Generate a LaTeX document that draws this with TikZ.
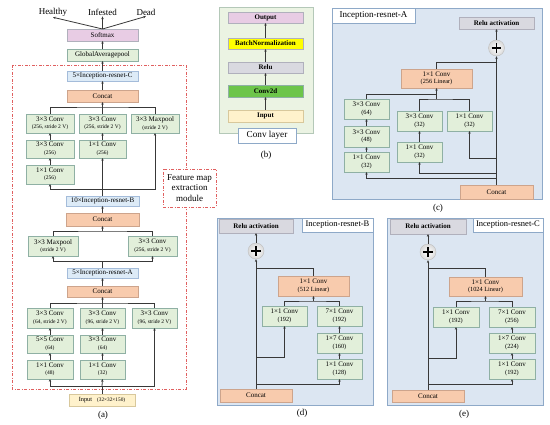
\documentclass[tikz,border=0pt]{standalone}
\usepackage{fontspec}
\setmainfont{Liberation Serif}
\usetikzlibrary{arrows.meta}
\definecolor{gfill}{HTML}{E2EFDA}
\definecolor{gdraw}{HTML}{8FB0A4}
\definecolor{bfill}{HTML}{DDEBF7}
\definecolor{bdraw}{HTML}{A4BCDA}
\definecolor{ofill}{HTML}{F8CBAD}
\definecolor{odraw}{HTML}{CDA48C}
\definecolor{pfill}{HTML}{E8CCE4}
\definecolor{yfill}{HTML}{FFF2CC}
\definecolor{ydraw}{HTML}{D8C89C}
\definecolor{rfill}{HTML}{D9D9E0}
\definecolor{rdraw}{HTML}{B0B0BC}
\definecolor{cgreen}{HTML}{6DC54A}
\definecolor{byellow}{HTML}{FFFF00}
\definecolor{panelb}{HTML}{DCE6F2}
\definecolor{paneldraw}{HTML}{8EA9C8}
\definecolor{panelg}{HTML}{EBF3E3}
\definecolor{panelgdraw}{HTML}{B4C8B8}
\definecolor{lcol}{HTML}{383838}
\definecolor{redd}{HTML}{E06060}
\newcommand{\bt}[2]{#1\\[-0.5pt]{\fontsize{5.5}{6}\selectfont #2}}
\newcommand{\ct}[2]{#1\\[-0.5pt]{\fontsize{6.3}{7}\selectfont #2}}
\newcommand{\bx}[7]{\node[#2, minimum width={(#5)-(#3)}, minimum height={(#6)-(#4)}] (#1) at ({((#3)+(#5))/2},{((#4)+(#6))/2}) {#7};}
\begin{document}
\begin{tikzpicture}[x=1pt,y=-1pt,
  base/.style={inner sep=0pt, outer sep=0pt, align=center, font=\fontsize{7}{8}\selectfont, line width=0.55pt},
  gbox/.style={base, draw=gdraw, fill=gfill},
  bbox/.style={base, draw=bdraw, fill=bfill},
  obox/.style={base, draw=odraw, fill=ofill},
  pbox/.style={base, draw=rdraw, fill=pfill},
  ibox/.style={base, draw=ydraw, fill=yfill},
  rbox/.style={base, draw=rdraw, fill=rfill, font=\fontsize{7}{8}\selectfont\bfseries},
  wlab/.style={base, draw=paneldraw, fill=white, font=\fontsize{8.5}{9}\selectfont},
  ln/.style={draw=lcol, line width=0.8pt},
  arr/.style={ln, -{Stealth[length=2.8pt,width=2.4pt]}},
  reddash/.style={draw=redd, line width=0.7pt, dash pattern=on 3pt off 1.5pt on 1pt off 1.5pt},
  plusc/.style={circle, draw=gray!50, line width=0.4pt, inner color=white, outer color=gray!30, minimum size=16pt, inner sep=0pt,
    path picture={
      \draw[line width=1.8pt, black] ([xshift=-4.8pt]path picture bounding box.center) -- ([xshift=4.8pt]path picture bounding box.center);
      \draw[line width=1.8pt, black] ([yshift=-4.8pt]path picture bounding box.center) -- ([yshift=4.8pt]path picture bounding box.center);}},
  captxt/.style={inner sep=1pt, font=\fontsize{9}{10}\selectfont}
]
\useasboundingbox (0,0) rectangle (550,425);

% ---------- backgrounds ----------
\draw[reddash] (12,65) rectangle (186,389);
\draw[draw=panelgdraw, fill=panelg, line width=0.6pt] (219,7) rectangle (313,133);
\draw[draw=paneldraw, fill=panelb, line width=0.6pt] (332,8) rectangle (542,199);
\draw[draw=paneldraw, fill=panelb, line width=0.6pt] (217,218) rectangle (373,405);
\draw[draw=paneldraw, fill=panelb, line width=0.6pt] (387,218) rectangle (543,405);

% ---------- panel (a) ----------
\node[captxt] (hl) at (53,12) {Healthy};
\node[captxt] (inf) at (102.5,12) {Infested};
\node[captxt] (dd) at (146,12) {Dead};
\bx{sm}{pbox}{67}{29}{138}{41}{Softmax}
\bx{gap}{gbox}{67}{49}{138}{61}{GlobalAveragepool}
\bx{c5}{bbox}{67}{71}{138}{81}{5×Inception-resnet-C}
\bx{cc1}{obox}{67}{90}{138}{102}{Concat}
\bx{a11}{gbox}{26}{114}{74}{133}{\bt{3×3 Conv}{(256, stride 2 V)}}
\bx{a12}{gbox}{79}{114}{126}{133}{\bt{3×3 Conv}{(256, stride 2 V)}}
\bx{a13}{gbox}{131}{114}{179}{133}{\bt{3×3 Maxpool}{(stride 2 V)}}
\bx{a21}{gbox}{26}{140}{74}{158}{\bt{3×3 Conv}{(256)}}
\bx{a22}{gbox}{79}{140}{126}{158}{\bt{1×1 Conv}{(256)}}
\bx{a31}{gbox}{26}{165}{74}{184}{\bt{1×1 Conv}{(256)}}
\bx{b10}{bbox}{66}{196}{139}{206}{10×Inception-resnet-B}
\bx{cc2}{obox}{66}{213}{139}{226}{Concat}
\bx{m1}{gbox}{28}{236}{78}{256}{\bt{3×3 Maxpool}{(stride 2 V)}}
\bx{m2}{gbox}{128}{236}{177}{256}{\bt{3×3 Conv}{(256, stride 2 V)}}
\bx{a5}{bbox}{67}{268}{138}{278}{5×Inception-resnet-A}
\bx{cc3}{obox}{67}{286}{138}{297}{Concat}
\bx{r11}{gbox}{27}{308}{73}{328}{\bt{3×3 Conv}{(64, stride 2 V)}}
\bx{r12}{gbox}{80}{308}{125}{328}{\bt{3×3 Conv}{(96, stride 2 V)}}
\bx{r13}{gbox}{132}{308}{177}{328}{\bt{3×3 Conv}{(96, stride 2 V)}}
\bx{r21}{gbox}{27}{335}{73}{353}{\bt{5×5 Conv}{(64)}}
\bx{r22}{gbox}{80}{335}{125}{353}{\bt{3×3 Conv}{(64)}}
\bx{r31}{gbox}{27}{360}{73}{379}{\bt{1×1 Conv}{(48)}}
\bx{r32}{gbox}{80}{360}{125}{379}{\bt{1×1 Conv}{(32)}}
\bx{inp}{ibox}{69}{394}{135}{406}{{\fontsize{6.3}{7}\selectfont Input}\hspace{5pt}{\fontsize{5.3}{6}\selectfont (32×32×150)}}
\node[captxt] (lba) at (103,415) {(a)};
\bx{fm}{base, reddash, fill=white, font=\fontsize{9}{10.5}\selectfont}{163}{169}{216}{207}{Feature map\\extraction\\module}

\draw[arr] (sm.north) -- (hl.south);
\draw[arr] (sm.north) -- (inf.south);
\draw[arr] (sm.north) -- (dd.south);
\draw[arr] (gap.north) -- (sm.south);
\draw[arr] (c5.north) -- (gap.south);
\draw[arr] (cc1.north) -- (c5.south);
\coordinate (j1) at (102.5,107);
\draw[ln] (a11.north) |- (j1) -| (a13.north);
\draw[ln] (a12.north) -- (j1);
\draw[arr] (j1) -- (cc1.south);
\draw[arr] (a21.north) -- (a11.south);
\draw[arr] (a31.north) -- (a21.south);
\draw[arr] (a22.north) -- (a12.south);
\coordinate (j2) at (102.5,189);
\draw[ln] (b10.north) -- (j2);
\draw[arr] (j2) -- (a22.south);
\draw[arr] (j2) -| (a31.south);
\draw[arr] (j2) -| (a13.south);
\draw[arr] (cc2.north) -- (b10.south);
\coordinate (j3) at (102.5,231);
\draw[ln] (m1.north) |- (j3) -| (m2.north);
\draw[arr] (j3) -- (cc2.south);
\coordinate (j4) at (102.5,261);
\draw[ln] (a5.north) -- (j4);
\draw[arr] (j4) -| (m1.south);
\draw[arr] (j4) -| (m2.south);
\draw[arr] (cc3.north) -- (a5.south);
\coordinate (j5) at (102.5,303);
\draw[ln] (r11.north) |- (j5) -| (r13.north);
\draw[ln] (r12.north) -- (j5);
\draw[arr] (j5) -- (cc3.south);
\draw[arr] (r21.north) -- (r11.south);
\draw[arr] (r31.north) -- (r21.south);
\draw[arr] (r22.north) -- (r12.south);
\draw[arr] (r32.north) -- (r22.south);
\coordinate (j6) at (102,386);
\draw[ln] (inp.north) -- (j6);
\draw[arr] (j6) -- (r32.south);
\draw[arr] (j6) -| (r31.south);
\draw[arr] (j6) -| (r13.south);

% ---------- panel (b) ----------
\bx{bo}{pbox}{228}{12}{303}{23}{\textbf{Output}}
\bx{bn}{base, draw=rdraw, fill=byellow}{228}{38}{303}{49}{\textbf{BatchNormalization}}
\bx{br}{rbox}{228}{62}{303}{73}{Relu}
\bx{bc}{base, draw=gdraw, fill=cgreen}{228}{85}{303}{97}{\textbf{Conv2d}}
\bx{bi}{ibox}{228}{110}{303}{122}{\textbf{Input}}
\bx{cl}{base, draw=paneldraw, fill=white, font=\fontsize{9.2}{10}\selectfont}{238}{128}{296}{143}{Conv layer}
\node[captxt] (lbb) at (266,155) {(b)};
\draw[arr] (bi.north) -- (bc.south);
\draw[arr] (bc.north) -- (br.south);
\draw[arr] (br.north) -- (bn.south);
\draw[arr] (bn.north) -- (bo.south);

% ---------- panel (c) ----------
\bx{lac}{wlab, font=\fontsize{9}{10}\selectfont}{332}{8}{415}{23}{Inception-resnet-A}
\bx{ra}{rbox}{459}{17}{534}{29}{Relu activation}
\node[plusc] (pa) at (496.5,48) {};
\bx{co}{obox}{401}{69}{472}{88}{\ct{1×1 Conv}{(256 Linear)}}
\bx{k1}{gbox}{344}{99}{389}{119}{\ct{3×3 Conv}{(64)}}
\bx{k2}{gbox}{344}{126}{389}{147}{\ct{3×3 Conv}{(48)}}
\bx{k3}{gbox}{344}{152}{389}{172}{\ct{1×1 Conv}{(32)}}
\bx{k4}{gbox}{397}{111}{442}{131}{\ct{3×3 Conv}{(32)}}
\bx{k5}{gbox}{397}{142}{442}{162}{\ct{1×1 Conv}{(32)}}
\bx{k6}{gbox}{447}{111}{492}{131}{\ct{1×1 Conv}{(32)}}
\bx{ccat}{obox}{460}{185}{533}{199}{Concat}
\node[captxt] (lbc) at (438,208) {(c)};
\coordinate (cj0) at (496.5,62);
\draw[arr] (ccat.north) -- (pa.south);
\draw[ln] (co.north) |- (cj0);
\draw[arr] (pa.north) -- (ra.south);
\coordinate (cb1) at (496.5,178);
\coordinate (cb2) at (496.5,173);
\coordinate (cb3) at (496.5,158);
\draw[arr] (cb1) -| (k3.south);
\draw[arr] (cb2) -| (k5.south);
\draw[arr] (cb3) -| (k6.south);
\draw[arr] (k3.north) -- (k2.south);
\draw[arr] (k2.north) -- (k1.south);
\draw[arr] (k5.north) -- (k4.south);
\coordinate (ct1) at (436.5,94);
\coordinate (ct2) at (436.5,99);
\draw[ln] (k1.north) |- (ct1);
\draw[ln] (k4.north) |- (ct2) -| (k6.north);
\draw[arr] (ct2) -- (co.south);

% ---------- panel (d) ----------
\bx{rd}{rbox}{219}{219}{293}{233}{Relu activation}
\bx{lad}{wlab}{302}{218}{373}{232}{Inception-resnet-B}
\node[plusc] (pd) at (256,251) {};
\bx{dor}{obox}{278}{276}{349}{296}{\ct{1×1 Conv}{(512 Linear)}}
\bx{d1}{gbox}{262}{306}{307}{326}{\ct{1×1 Conv}{(192)}}
\bx{d2}{gbox}{317}{306}{362}{326}{\ct{7×1 Conv}{(192)}}
\bx{d3}{gbox}{317}{333}{362}{353}{\ct{1×7 Conv}{(160)}}
\bx{d4}{gbox}{317}{359}{362}{379}{\ct{1×1 Conv}{(128)}}
\bx{dcat}{obox}{220}{389}{292}{402}{Concat}
\node[captxt] (lbd) at (302,413) {(d)};
\coordinate (dj0) at (256,268);
\draw[arr] (dcat.north) -- (pd.south);
\draw[ln] (dor.north) |- (dj0);
\draw[arr] (pd.north) -- (rd.south);
\coordinate (db1) at (256,384);
\coordinate (db2) at (256,357);
\draw[arr] (db1) -| (d4.south);
\draw[arr] (db2) -| (d1.south);
\draw[arr] (d4.north) -- (d3.south);
\draw[arr] (d3.north) -- (d2.south);
\coordinate (dt) at (313.5,301);
\draw[ln] (d1.north) |- (dt) -| (d2.north);
\draw[arr] (dt) -- (dor.south);

% ---------- panel (e) ----------
\bx{re}{rbox}{390}{219}{466}{234}{Relu activation}
\bx{lae}{wlab}{473}{218}{543}{232}{Inception-resnet-C}
\node[plusc] (pe) at (428,252) {};
\bx{eor}{obox}{449}{277}{522}{296}{\ct{1×1 Conv}{(1024 Linear)}}
\bx{e1}{gbox}{433}{307}{479}{327}{\ct{1×1 Conv}{(192)}}
\bx{e2}{gbox}{489}{307}{535}{327}{\ct{7×1 Conv}{(256)}}
\bx{e3}{gbox}{489}{333}{535}{353}{\ct{1×7 Conv}{(224)}}
\bx{e4}{gbox}{489}{359}{535}{379}{\ct{1×1 Conv}{(192)}}
\bx{ecat}{obox}{392}{390}{464}{402}{Concat}
\node[captxt] (lbe) at (464,414) {(e)};
\coordinate (ej0) at (428,268);
\draw[arr] (ecat.north) -- (pe.south);
\draw[ln] (eor.north) |- (ej0);
\draw[arr] (pe.north) -- (re.south);
\coordinate (eb1) at (428,384);
\coordinate (eb2) at (428,358);
\draw[arr] (eb1) -| (e4.south);
\draw[arr] (eb2) -| (e1.south);
\draw[arr] (e4.north) -- (e3.south);
\draw[arr] (e3.north) -- (e2.south);
\coordinate (et) at (485.5,301);
\draw[ln] (e1.north) |- (et) -| (e2.north);
\draw[arr] (et) -- (eor.south);
\end{tikzpicture}
\end{document}
